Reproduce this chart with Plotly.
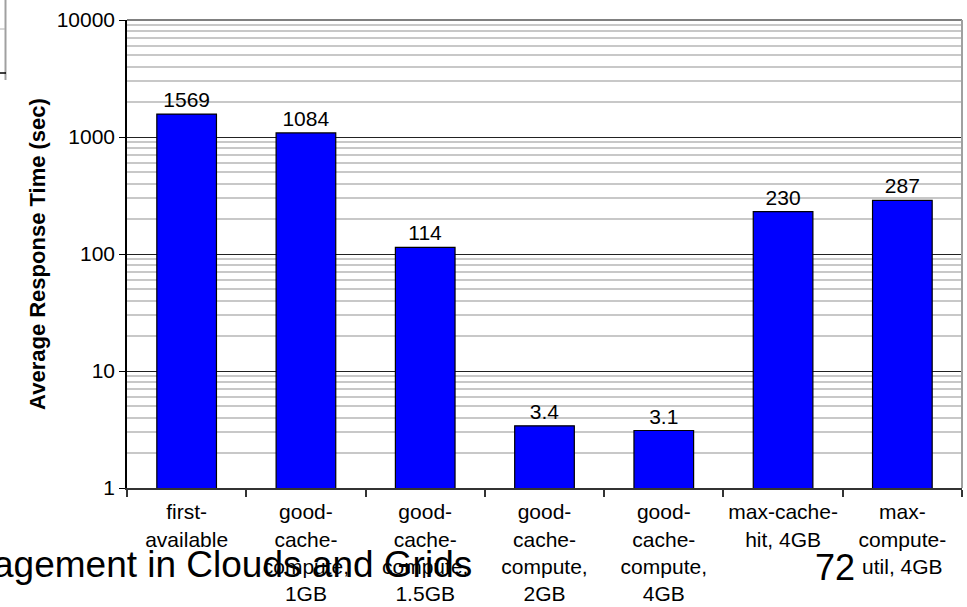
import plotly.graph_objects as go

categories = [
    "first-<br>available",
    "good-<br>cache-<br>compute,<br>1GB",
    "good-<br>cache-<br>compute,<br>1.5GB",
    "good-<br>cache-<br>compute,<br>2GB",
    "good-<br>cache-<br>compute,<br>4GB",
    "max-cache-<br>hit, 4GB",
    "max-<br>compute-<br>util, 4GB",
]
values = [1569, 1084, 114, 3.4, 3.1, 230, 287]
value_labels = ["1569", "1084", "114", "3.4", "3.1", "230", "287"]
y_tickvals = [1, 10, 100, 1000, 10000]
y_ticktext = ["1", "10", "100", "1000", "10000"]
minor_vals = [m * 10 ** k for k in range(4) for m in range(2, 10)]

W, H = 967, 607
L, R, T, B = 127, 962, 20, 488
FONT = "Arial, Liberation Sans, sans-serif"


def px(x):
    return (x - L) / (R - L)


def py(y):
    return (B - y) / (B - T)


fig = go.Figure()
fig.add_trace(go.Bar(
    x=categories, y=values,
    text=value_labels, textposition="outside",
    textfont=dict(size=21, color="black", family=FONT),
    cliponaxis=False,
    marker=dict(color="#0000FF", line=dict(color="black", width=1.2)),
    width=0.5,
    hoverinfo="skip",
))

fig.update_layout(
    width=W, height=H,
    margin=dict(l=L, r=W - R, t=T, b=H - B, autoexpand=False),
    paper_bgcolor="white", plot_bgcolor="white",
    font=dict(family=FONT, color="black"),
    showlegend=False,
    bargap=0.5,
)
fig.update_xaxes(
    type="category",
    automargin=False,
    tickson="boundaries",
    ticks="outside", ticklen=7, tickcolor="#333", tickwidth=1.5,
    showline=True, linecolor="#333", linewidth=2,
    tickfont=dict(size=21, color="black"),
    ticklabelstandoff=4,
    showgrid=False,
)
fig.update_yaxes(
    type="log", range=[0, 4],
    automargin=False,
    tickvals=y_tickvals, ticktext=y_ticktext,
    ticks="outside", ticklen=6, tickcolor="black",
    tickfont=dict(size=21, color="black"),
    showline=True, linecolor="black", linewidth=1.5,
    showgrid=True, gridcolor="#222", gridwidth=1,
    minor=dict(tickvals=minor_vals, showgrid=True, gridcolor="#c8c8c8", gridwidth=1.5, ticks=""),
    title=dict(text="<b>Average Response Time (sec)</b>", font=dict(size=22), standoff=5),
    zeroline=False,
)

# plot frame top/right (gray)
fig.add_shape(type="line", xref="paper", yref="paper", x0=0, x1=1, y0=1, y1=1,
              line=dict(color="#808080", width=2))
fig.add_shape(type="line", xref="paper", yref="paper", x0=1, x1=1, y0=0, y1=1.0,
              line=dict(color="#a0a0a0", width=2))

# fragment of neighbouring box at top-left
fig.add_shape(type="line", xref="paper", yref="paper", x0=px(5.5), x1=px(5.5), y0=py(0), y1=py(80),
              line=dict(color="#a0a0a0", width=2))
fig.add_shape(type="line", xref="paper", yref="paper", x0=px(0), x1=px(5), y0=py(29), y1=py(29),
              line=dict(color="#b0b0b0", width=1))
fig.add_shape(type="line", xref="paper", yref="paper", x0=px(0), x1=px(6), y0=py(73), y1=py(73),
              line=dict(color="black", width=1.5))

# slide footer texts overlapping
fig.add_annotation(text="agement in Clouds and Grids", xref="paper", yref="paper",
                   x=px(474), y=py(564), xanchor="right", yanchor="middle",
                   showarrow=False, font=dict(size=37, color="black", family=FONT))
fig.add_annotation(text="72", xref="paper", yref="paper",
                   x=px(835), y=py(567), xanchor="center", yanchor="middle",
                   showarrow=False, font=dict(size=36, color="black", family=FONT))

fig.write_html("out.html", config={"displayModeBar": False},
               post_script="document.body.style.margin='0px';")
